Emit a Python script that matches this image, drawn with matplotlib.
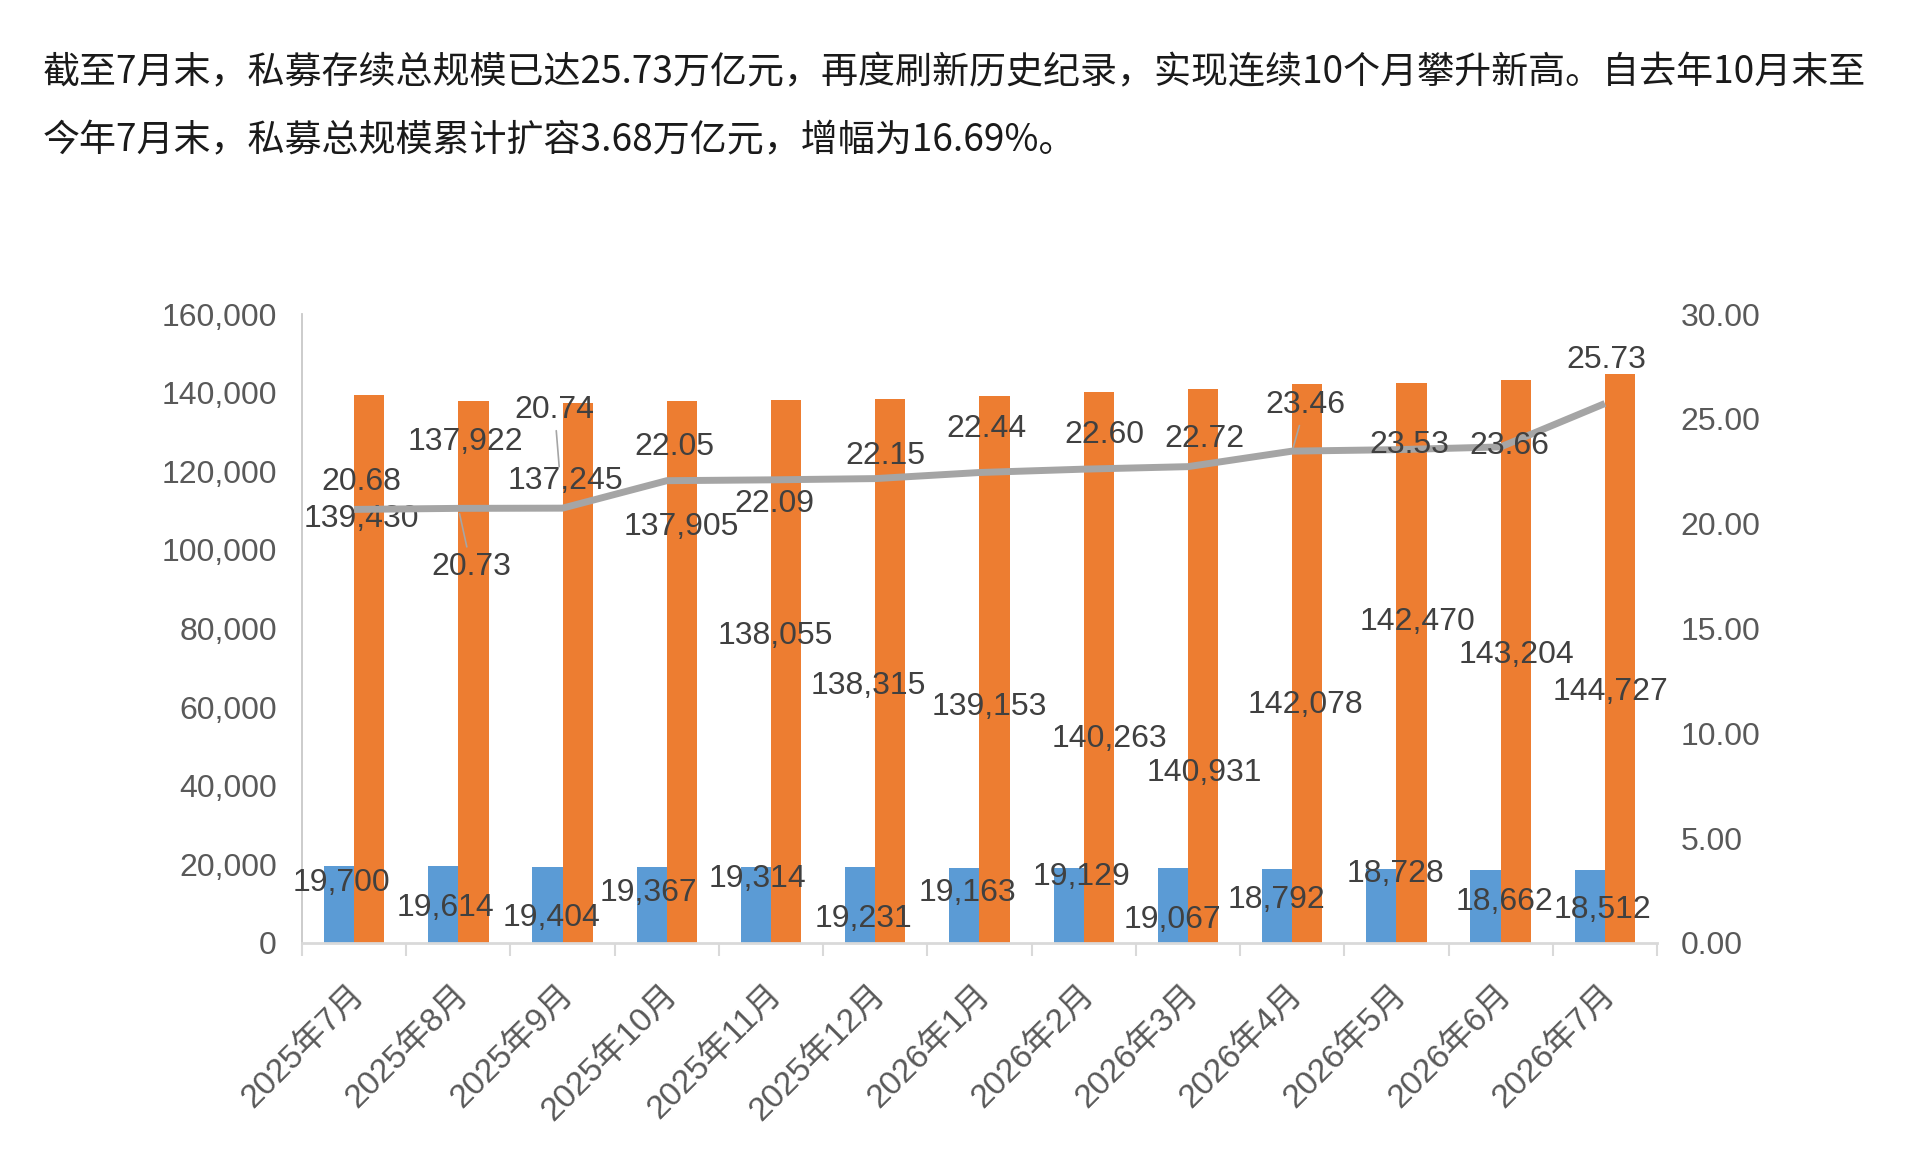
import matplotlib
matplotlib.use("Agg")
import matplotlib.pyplot as plt
from matplotlib import font_manager
import matplotlib.transforms as mtransforms

# ---------------- data ----------------
months = ["2025年7月", "2025年8月", "2025年9月", "2025年10月", "2025年11月", "2025年12月",
          "2026年1月", "2026年2月", "2026年3月", "2026年4月", "2026年5月", "2026年6月", "2026年7月"]
managers = [19700, 19614, 19404, 19367, 19314, 19231, 19163, 19129, 19067, 18792, 18728, 18662, 18512]
funds = [139430, 137922, 137245, 137905, 138055, 138315, 139153, 140263, 140931, 142078,
         142470, 143204, 144727]
scale = [20.68, 20.73, 20.74, 22.05, 22.09, 22.15, 22.44, 22.60, 22.72, 23.46, 23.53, 23.66, 25.73]

left_ticks = [0, 20000, 40000, 60000, 80000, 100000, 120000, 140000, 160000]
right_ticks = [0, 5, 10, 15, 20, 25, 30]

title_lines = ["截至7月末，私募存续总规模已达25.73万亿元，再度刷新历史纪录，实现连续10个月攀升新高。自去年10月末至",
               "今年7月末，私募总规模累计扩容3.68万亿元，增幅为16.69%。"]

# label offsets (pixels, dx right, dy up) -- layout only
fund_off = [(-8, -124), (-8, -41), (-12, -78), (-1, -126), (-11, -236), (-22, -287), (-5, -311),
            (11, -347), (1, -384), (-2, -321), (6, -239), (1, -275), (-9, -318)]
mgr_off = [(2, -17), (2, -42), (4, -51), (-3, -26), (2, -12), (3, -52), (3, -25),
           (13, -9), (0, -52), (-1, -31), (14, -5), (19, -32), (13, -40)]
scale_off = [(7, 27), (13, -59), (-8, 98), (8, 34), (3, -24), (10, 23), (7, 44),
             (21, 34), (16, 28), (13, 46), (13, 5), (9, 1), (1, 44)]

# ---------------- style ----------------
avail = {f.name for f in font_manager.fontManager.ttflist}
num_font = "Liberation Sans" if "Liberation Sans" in avail else "DejaVu Sans"
cjk_font = "Noto Sans CJK SC"
BLUE = "#5B9BD5"
ORANGE = "#ED7D31"
LINE = "#A5A5A5"
TICKC = "#595959"
LABC = "#404040"
AXC = "#D9D9D9"
FS = 23
PX = 0.72  # points per pixel at dpi 100

fig = plt.figure(figsize=(19.2, 11.68), dpi=100)
fig.patch.set_facecolor("white")

for k, line in enumerate(title_lines):
    fig.text(0.0224, 0.9375 - k * 0.0585, line, family=[cjk_font, "DejaVu Sans"],
             fontsize=26.65, color="#1a1a1a", ha="left", va="center", fontweight="medium")

ax = fig.add_axes([0.15729, 0.19264, 0.70573, 0.53852])
ax2 = ax.twinx()

x = list(range(len(months)))
w = 0.29
xb = [i - w / 2 for i in x]
xo = [i + w / 2 for i in x]
ax.bar(xb, managers, width=w, color=BLUE, zorder=2)
ax.bar(xo, funds, width=w, color=ORANGE, zorder=2)
ax2.plot(x, scale, color=LINE, lw=5, solid_capstyle="butt", solid_joinstyle="round", zorder=3)

ax.set_xlim(-0.5, len(months) - 0.5)
ax.set_ylim(0, 160000)
ax2.set_ylim(0, 30)

ax.set_yticks(left_ticks)
ax.set_yticklabels([f"{t:,}" for t in left_ticks], family=num_font, fontsize=FS, color=TICKC)
ax2.set_yticks(right_ticks)
ax2.set_yticklabels([f"{t:.2f}" for t in right_ticks], family=num_font, fontsize=FS, color=TICKC)
ax.tick_params(axis="y", length=0, pad=18)
ax2.tick_params(axis="y", length=0, pad=17)

ax.set_xticks(x)
ax.set_xticklabels([])
ax.set_xticks([i - 0.5 for i in range(len(months) + 1)], minor=True)
ax.tick_params(axis="x", which="major", length=0)
ax.tick_params(axis="x", which="minor", length=9.4, width=1.5, color=AXC)

for s in ["top", "right"]:
    ax.spines[s].set_visible(False)
    ax2.spines[s].set_visible(False)
ax2.spines["left"].set_visible(False)
ax2.spines["bottom"].set_visible(False)
ax.spines["left"].set_color("#C8C8C8")
ax.spines["left"].set_linewidth(1.3)
ax.spines["bottom"].set_color(AXC)
ax.spines["bottom"].set_linewidth(2)

# x category labels
for i, m in enumerate(months):
    tr = ax.get_xaxis_transform() + mtransforms.ScaledTranslation(6 / 100, -47 / 100, fig.dpi_scale_trans)
    ax.text(i, 0, m, transform=tr, rotation=45, rotation_mode="anchor", ha="right", va="center",
            family=[num_font, cjk_font], fontsize=24, color=TICKC, clip_on=False)

# data labels
for i in x:
    dx, dy = fund_off[i]
    ax.annotate(f"{funds[i]:,}", (xo[i], funds[i]), xytext=(dx * PX, dy * PX), textcoords="offset points",
                ha="center", va="center", family=num_font, fontsize=FS, color=LABC, zorder=5)
    dx, dy = mgr_off[i]
    ax.annotate(f"{managers[i]:,}", (xb[i], managers[i]), xytext=(dx * PX, dy * PX), textcoords="offset points",
                ha="center", va="center", family=num_font, fontsize=FS, color=LABC, zorder=5)

leaders = {1: 4, 2: 30, 9: 2}
for i in x:
    dx, dy = scale_off[i]
    kw = {}
    if i in leaders:
        kw["arrowprops"] = dict(arrowstyle="-", color=LINE, lw=1.2, shrinkA=2, shrinkB=leaders[i])
    ax2.annotate(f"{scale[i]:.2f}", (x[i], scale[i]), xytext=(dx * PX, dy * PX), textcoords="offset points",
                 ha="center", va="center", family=num_font, fontsize=FS, color=LABC, zorder=6, **kw)

fig.savefig("out.png", dpi=100, facecolor="white")
